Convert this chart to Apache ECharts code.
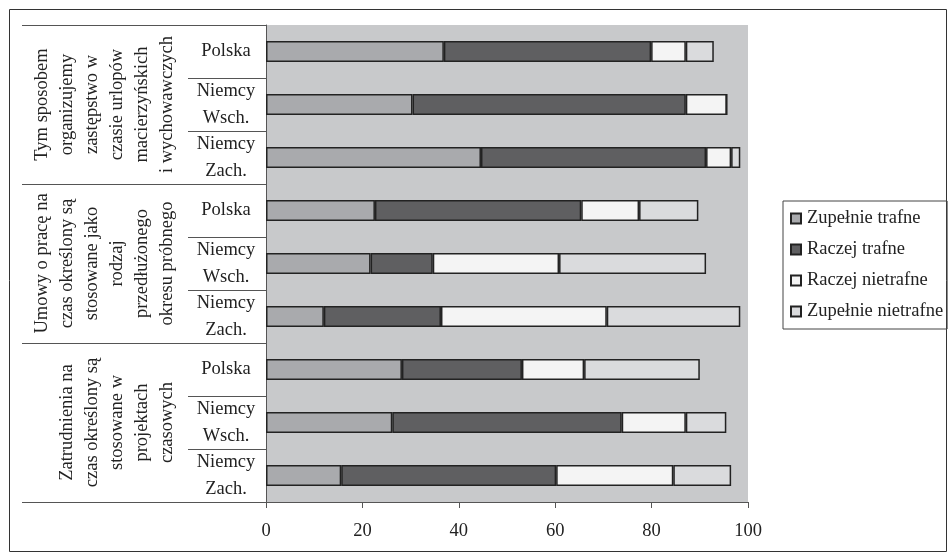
<!DOCTYPE html>
<html>
<head>
<meta charset="utf-8">
<script src="https://cdn.jsdelivr.net/npm/echarts@6/dist/echarts.min.js"></script>
<style>
  html, body { margin: 0; padding: 0; background: #fff; }
  #chart { width: 950px; height: 560px; }
</style>
</head>
<body>
<div id="chart"></div>
<script>
// groups (top to bottom) and countries inside each group
const groups = [
    'Tym sposobem\norganizujemy\nzastępstwo w\nczasie urlopów\nmacierzyńskich\ni wychowawczych',
    'Umowy o pracę na\nczas określony są\nstosowane jako\nrodzaj\nprzedłużonego\nokresu próbnego',
    'Zatrudnienia na\nczas określony są\nstosowane w\nprojektach\nczasowych'
];
const countries = ['Polska', 'Niemcy\nWsch.', 'Niemcy\nZach.'];

const seriesNames = ['Zupełnie trafne', 'Raczej trafne', 'Raczej nietrafne', 'Zupełnie nietrafne'];
const zupelnieTrafne    = [36.9, 30.4, 44.6, 22.6, 21.7, 12.0, 28.2, 26.2, 15.6];
const raczejTrafne      = [43.0, 56.7, 46.7, 42.8, 12.9, 24.3, 24.9, 47.6, 44.6];
const raczejNietrafne   = [7.2, 8.5, 5.2, 12.0, 26.2, 34.4, 12.9, 13.3, 24.3];
const zupelnieNietrafne = [5.8, 0, 1.9, 12.3, 30.5, 27.7, 24.0, 8.4, 12.0];

const xTicks = [0, 20, 40, 60, 80, 100];

const colors = ['#a9aaad', '#5f5f61', '#f4f4f4', '#dadbdd'];
const font = '"Liberation Serif", "Times New Roman", serif';

// unique keys for the 9 rows, label shows only the country
const rowKeys = [];
groups.forEach(function (g, gi) {
    countries.forEach(function (c) {
        rowKeys.push(gi + '|' + c);
    });
});

const chart = echarts.init(document.getElementById('chart'));

const values = [zupelnieTrafne, raczejTrafne, raczejNietrafne, zupelnieNietrafne];

const option = {
    backgroundColor: '#fff',
    animation: false,
    textStyle: { fontFamily: font, color: '#222' },
    grid: {
        left: 266,
        right: 202,
        top: 25,
        bottom: 58,
        show: true,
        backgroundColor: '#c8c9cb',
        borderWidth: 0
    },
    legend: {
        orient: 'vertical',
        left: 783,
        top: 201,
        padding: [8, 4, 8, 7],
        itemGap: 12,
        itemWidth: 10,
        itemHeight: 10,
        icon: 'rect',
        borderColor: '#444',
        borderWidth: 1,
        data: seriesNames,
        textStyle: { fontFamily: font, fontSize: 18.5, color: '#222', padding: [0, 0, 0, 1] }
    },
    xAxis: {
        type: 'value',
        min: 0,
        max: 100,
        interval: 20,
        splitLine: { show: false },
        axisLine: { show: true, lineStyle: { color: '#555', width: 1 } },
        axisTick: { show: true, length: 6, lineStyle: { color: '#555' } },
        axisLabel: {
            margin: 20,
            fontFamily: font,
            fontSize: 18.5,
            color: '#222',
            customValues: xTicks
        }
    },
    yAxis: [{
        type: 'category',
        inverse: true,
        data: rowKeys,
        axisLine: { show: true, lineStyle: { color: '#555', width: 1 } },
        axisTick: { show: true, length: 78, interval: 0, lineStyle: { color: '#555' } },
        axisLabel: {
            interval: 0,
            hideOverlap: false,
            margin: 40,
            align: 'center',
            fontFamily: font,
            fontSize: 18.5,
            lineHeight: 27,
            color: '#222',
            formatter: function (v) { return v.split('|')[1]; }
        }
    }, {
        type: 'category',
        inverse: true,
        position: 'left',
        data: groups,
        axisLine: { show: false },
        axisTick: { show: true, length: 244, interval: 0, lineStyle: { color: '#555' } },
        axisLabel: {
            interval: 0,
            hideOverlap: false,
            rotate: 90,
            margin: 86,
            fontFamily: font,
            fontSize: 18.5,
            lineHeight: 25,
            color: '#222'
        }
    }],
    series: seriesNames.map(function (name, i) {
        return {
            name: name,
            type: 'bar',
            stack: 'total',
            yAxisIndex: 0,
            barWidth: 21,
            itemStyle: { color: colors[i], borderColor: '#222', borderWidth: 1.5 },
            data: values[i]
        };
    }),
    graphic: [{
        type: 'rect',
        silent: true,
        shape: { x: 9.5, y: 9.5, width: 937, height: 542 },
        style: { fill: 'none', stroke: '#333', lineWidth: 1 }
    }]
};

chart.setOption(option);
</script>
</body>
</html>
